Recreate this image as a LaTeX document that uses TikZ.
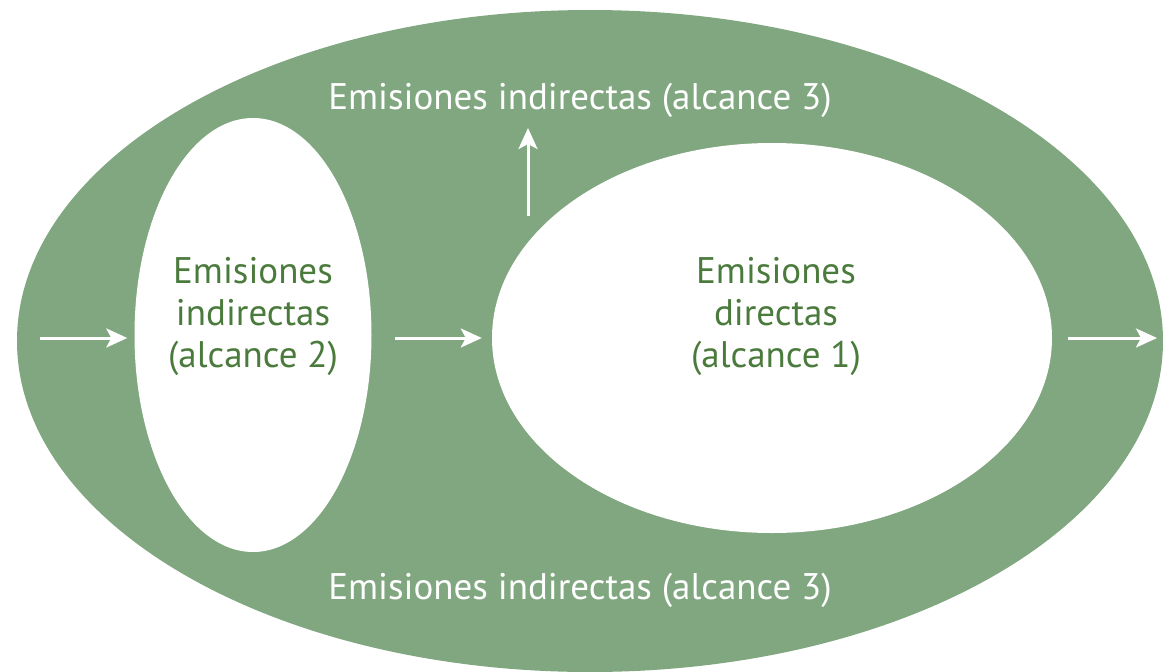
\documentclass[tikz,border=0pt]{standalone}
\usepackage{fontspec}
\setmainfont{PT Sans}
\usetikzlibrary{arrows.meta,shapes.geometric}
\definecolor{alcgreen}{HTML}{80A780}
\definecolor{alctext}{HTML}{4B7B3C}
\newcommand{\arw}{-{Stealth[length=21pt,width=19pt,inset=5pt]}}

\begin{document}
\begin{tikzpicture}[x=1pt,y=-1pt,
  scope/.style={ellipse,fill=white,inner sep=0pt},
  label3/.style={text=white,font=\fontsize{37}{40}\selectfont},
  labelin/.style={text=alctext,align=center,font=\fontsize{37}{42}\selectfont},
  flow/.style={white,line width=3pt}]
\useasboundingbox (0,0) rectangle (1163,672);
% outer scope 3
\fill[alcgreen] (590,341) ellipse [x radius=573,y radius=331];
\node[scope,minimum width=237,minimum height=434] (s2) at (253,335) {};
\node[scope,minimum width=560,minimum height=390] (s1) at (772,338) {};
\node[labelin] (t2) at (253,316) {Emisiones\\indirectas\\(alcance 2)};
\node[labelin] (t1) at (776,316) {Emisiones\\directas\\(alcance 1)};
\node[label3] (up) at (580,100) {Emisiones indirectas (alcance 3)};
\node[label3] (down) at (580,590) {Emisiones indirectas (alcance 3)};
%arrows
\coordinate (in) at (40,338);
\coordinate (out) at (1157,338);
\coordinate (vert) at (528,216);
\draw[flow,\arw,shorten >=7pt] (in) -- (in -| s2.west);
\draw[flow,\arw,shorten <=23pt,shorten >=10pt] (in -| s2.east) -- (in -| s1.west);
\draw[flow,\arw,shorten <=16pt] (out -| s1.east) -- (out);
\draw[flow,\arw] (vert) -- ++(0,-88);
\end{tikzpicture}
\end{document}
